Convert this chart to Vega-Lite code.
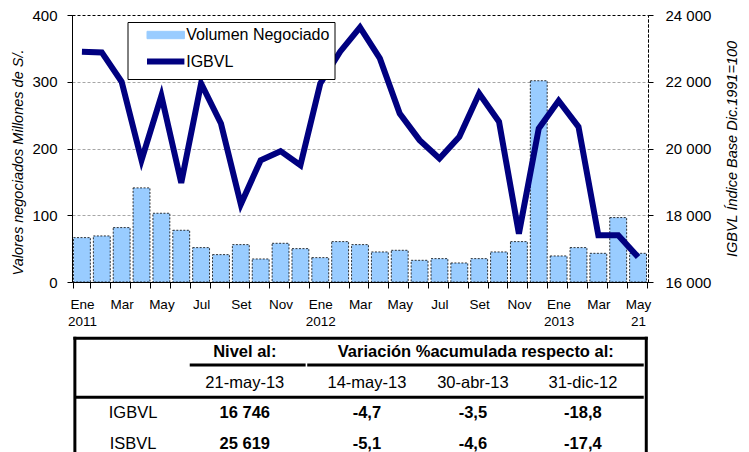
{
  "$schema": "https://vega.github.io/schema/vega-lite/v6.json",
  "width": 576,
  "height": 267,
  "autosize": "none",
  "padding": {"left": 72, "top": 15, "right": 101, "bottom": 170},
  "background": "#ffffff",
  "config": {
    "font": "Liberation Sans",
    "view": {"stroke": "#000000", "strokeDash": [3, 2], "strokeWidth": 1},
    "axis": {
      "labelFont": "Liberation Sans",
      "titleFont": "Liberation Sans",
      "labelColor": "#000000",
      "titleColor": "#000000",
      "tickColor": "#000000",
      "domainColor": "#000000",
      "labelFontSize": 15,
      "titleFontSize": 14.5,
      "titleFontWeight": "normal",
      "titleFontStyle": "italic"
    },
    "legend": {
      "title": null,
      "orient": "none",
      "legendX": 55.5,
      "legendY": 7,
      "padding": 5,
      "strokeColor": "#000000",
      "fillColor": "#ffffff",
      "symbolSize": 400,
      "symbolOffset": 25.2,
      "labelOffset": 12.5,
      "labelFontSize": 16,
      "labelColor": "#000000",
      "rowPadding": 6.5,
      "labelExpr": "datum.label + '  '"
    }
  },
  "datasets": {
    "mensual": [
      {"mes": "2011-01", "volumen": 66.5, "igbvl": 22900},
      {"mes": "2011-02", "volumen": 69, "igbvl": 22880},
      {"mes": "2011-03", "volumen": 81.5, "igbvl": 22000},
      {"mes": "2011-04", "volumen": 141, "igbvl": 19650},
      {"mes": "2011-05", "volumen": 103, "igbvl": 21580},
      {"mes": "2011-06", "volumen": 77.5, "igbvl": 18970},
      {"mes": "2011-07", "volumen": 51.5, "igbvl": 21950},
      {"mes": "2011-08", "volumen": 41, "igbvl": 20750},
      {"mes": "2011-09", "volumen": 56, "igbvl": 18330},
      {"mes": "2011-10", "volumen": 34.5, "igbvl": 19650},
      {"mes": "2011-11", "volumen": 58, "igbvl": 19920},
      {"mes": "2011-12", "volumen": 50, "igbvl": 19500},
      {"mes": "2012-01", "volumen": 36.5, "igbvl": 21950},
      {"mes": "2012-02", "volumen": 60.5, "igbvl": 22900},
      {"mes": "2012-03", "volumen": 56, "igbvl": 23630},
      {"mes": "2012-04", "volumen": 45, "igbvl": 22700},
      {"mes": "2012-05", "volumen": 47.5, "igbvl": 21050},
      {"mes": "2012-06", "volumen": 32.5, "igbvl": 20250},
      {"mes": "2012-07", "volumen": 35, "igbvl": 19700},
      {"mes": "2012-08", "volumen": 28.5, "igbvl": 20350},
      {"mes": "2012-09", "volumen": 35, "igbvl": 21650},
      {"mes": "2012-10", "volumen": 45, "igbvl": 20800},
      {"mes": "2012-11", "volumen": 60.5, "igbvl": 17450},
      {"mes": "2012-12", "volumen": 301.5, "igbvl": 20600},
      {"mes": "2013-01", "volumen": 39, "igbvl": 21430},
      {"mes": "2013-02", "volumen": 51.5, "igbvl": 20650},
      {"mes": "2013-03", "volumen": 43, "igbvl": 17400},
      {"mes": "2013-04", "volumen": 96.5, "igbvl": 17400},
      {"mes": "2013-05", "volumen": 43, "igbvl": 16746}
    ],
    "tabla": [
      {"fila": 0, "col": 30.0, "texto": "Nivel al:", "tipo": "encabezado"},
      {"fila": 0, "col": 70.1, "texto": "Variación %acumulada respecto al:", "tipo": "encabezado"},
      {"fila": 1, "col": 30.0, "texto": "21-may-13", "tipo": "fecha"},
      {"fila": 1, "col": 51.2, "texto": "14-may-13", "tipo": "fecha"},
      {"fila": 1, "col": 69.6, "texto": "30-abr-13", "tipo": "fecha"},
      {"fila": 1, "col": 88.7, "texto": "31-dic-12", "tipo": "fecha"},
      {"fila": 2, "col": 10.6, "texto": "IGBVL", "tipo": "indice"},
      {"fila": 2, "col": 30.0, "texto": "16 746", "tipo": "valor"},
      {"fila": 2, "col": 51.2, "texto": "-4,7", "tipo": "valor"},
      {"fila": 2, "col": 69.6, "texto": "-3,5", "tipo": "valor"},
      {"fila": 2, "col": 88.7, "texto": "-18,8", "tipo": "valor"},
      {"fila": 3, "col": 10.6, "texto": "ISBVL", "tipo": "indice"},
      {"fila": 3, "col": 30.0, "texto": "25 619", "tipo": "valor"},
      {"fila": 3, "col": 51.2, "texto": "-5,1", "tipo": "valor"},
      {"fila": 3, "col": 69.6, "texto": "-4,6", "tipo": "valor"},
      {"fila": 3, "col": 88.7, "texto": "-17,4", "tipo": "valor"}
    ],
    "lineas": [
      {"c1": 0.5, "c2": 99.7, "f1": -0.45, "f2": -0.45},
      {"c1": 0.5, "c2": 0.5, "f1": -0.45, "f2": 3.7},
      {"c1": 99.7, "c2": 99.7, "f1": -0.45, "f2": 3.7},
      {"c1": 20.7, "c2": 40.3, "f1": 0.43, "f2": 0.43},
      {"c1": 41.1, "c2": 99.0, "f1": 0.43, "f2": 0.43},
      {"c1": 0.9, "c2": 99.0, "f1": 1.48, "f2": 1.48}
    ]
  },
  "layer": [
    {
      "data": {"name": "mensual"},
      "layer": [
        {
          "mark": {"type": "bar", "stroke": "#000000", "strokeWidth": 0.8, "strokeDash": [2, 1.5]},
          "encoding": {
            "x": {
              "field": "mes",
              "type": "ordinal",
              "scale": {"paddingInner": 0.15, "paddingOuter": 0.075},
              "axis": {
                "title": null,
                "labelAngle": 0,
                "labelFontSize": 13.5,
                "labelLineHeight": 17,
                "labelPadding": 9,
                "labelOverlap": false,
                "tickBand": "extent",
                "tickSize": 6,
                "labelExpr": "datum.value == '2011-01' ? ['Ene', '2011'] : datum.value == '2012-01' ? ['Ene', '2012'] : datum.value == '2013-01' ? ['Ene', '2013'] : datum.value == '2013-05' ? ['May', '21'] : ['', '', 'Mar', '', 'May', '', 'Jul', '', 'Set', '', 'Nov', ''][toNumber(substring(datum.value, 5, 7)) - 1]"
              }
            },
            "y": {
              "field": "volumen",
              "type": "quantitative",
              "scale": {"domain": [0, 400]},
              "axis": {
                "title": "Valores negociados Millones de S/.",
                "titleY": 147,
                "values": [0, 100, 200, 300, 400],
                "grid": true,
                "gridDash": [3, 2],
                "gridColor": "#a6a6a6",
                "gridOpacity": {"condition": {"test": "datum.value == 0 || datum.value == 400", "value": 0}, "value": 1},
                "tickSize": 5,
                "labelPadding": 10,
                "titlePadding": 6
              }
            },
            "color": {
              "datum": "Volumen Negociado",
              "type": "nominal",
              "scale": {"domain": ["Volumen Negociado", "IGBVL"], "range": ["#99ccff", "#000080"]},
              "legend": {
                "encode": {
                  "symbols": {
                    "update": {
                      "shape": {"signal": "datum.value === 'IGBVL' ? 'M-1.87,0H1.87' : 'M-1.87,-0.37H1.87V0.37H-1.87Z'"},
                      "fill": {"signal": "datum.value === 'IGBVL' ? 'transparent' : '#99ccff'"},
                      "stroke": {"signal": "datum.value === 'IGBVL' ? '#000080' : '#000000'"},
                      "strokeWidth": {"signal": "datum.value === 'IGBVL' ? 6 : 1"},
                      "opacity": {"value": 1}
                    }
                  }
                }
              }
            }
          }
        },
        {
          "mark": {"type": "line", "strokeWidth": 6},
          "encoding": {
            "x": {"field": "mes", "type": "ordinal"},
            "y": {
              "field": "igbvl",
              "type": "quantitative",
              "scale": {"domain": [16000, 24000]},
              "axis": {
                "orient": "right",
                "title": "IGBVL Índice Base Dic.1991=100",
                "titleAngle": 270,
                "values": [16000, 18000, 20000, 22000, 24000],
                "labelExpr": "replace(format(datum.value, ','), ',', ' ')",
                "grid": false,
                "tickSize": 5,
                "labelPadding": 12,
                "titlePadding": 29,
                "domainDash": [3, 2]
              }
            },
            "color": {
              "datum": "IGBVL",
              "type": "nominal",
              "legend": {
                "encode": {
                  "symbols": {
                    "update": {
                      "shape": {"signal": "datum.value === 'IGBVL' ? 'M-1.87,0H1.87' : 'M-1.87,-0.37H1.87V0.37H-1.87Z'"},
                      "fill": {"signal": "datum.value === 'IGBVL' ? 'transparent' : '#99ccff'"},
                      "stroke": {"signal": "datum.value === 'IGBVL' ? '#000080' : '#000000'"},
                      "strokeWidth": {"signal": "datum.value === 'IGBVL' ? 6 : 1"},
                      "opacity": {"value": 1}
                    }
                  }
                }
              }
            }
          }
        }
      ],
      "resolve": {"scale": {"y": "independent"}}
    },
    {
      "layer": [
        {
          "data": {"name": "lineas"},
          "mark": {"type": "rule", "strokeWidth": 3, "color": "#000000", "strokeCap": "square"},
          "encoding": {
            "x": {"field": "c1", "type": "quantitative", "scale": {"domain": [0, 100], "range": [0, 576]}, "axis": null},
            "x2": {"field": "c2"},
            "y": {"field": "f1", "type": "quantitative", "scale": {"domain": [0, 3], "range": [337, 428.5]}, "axis": null},
            "y2": {"field": "f2"}
          }
        },
        {
          "data": {"name": "tabla"},
          "transform": [{"filter": "datum.tipo == 'encabezado' || datum.tipo == 'valor'"}],
          "mark": {"type": "text", "fontSize": 16.5, "fontWeight": "bold", "baseline": "middle", "align": "center", "color": "#000000"},
          "encoding": {
            "x": {"field": "col", "type": "quantitative", "axis": null},
            "y": {"field": "fila", "type": "quantitative", "axis": null},
            "text": {"field": "texto"}
          }
        },
        {
          "data": {"name": "tabla"},
          "transform": [{"filter": "datum.tipo == 'fecha' || datum.tipo == 'indice'"}],
          "mark": {"type": "text", "fontSize": 16.5, "baseline": "middle", "align": "center", "color": "#000000"},
          "encoding": {
            "x": {"field": "col", "type": "quantitative", "axis": null},
            "y": {"field": "fila", "type": "quantitative", "axis": null},
            "text": {"field": "texto"}
          }
        }
      ]
    }
  ],
  "resolve": {"scale": {"x": "independent", "y": "independent", "color": "independent"}}
}
